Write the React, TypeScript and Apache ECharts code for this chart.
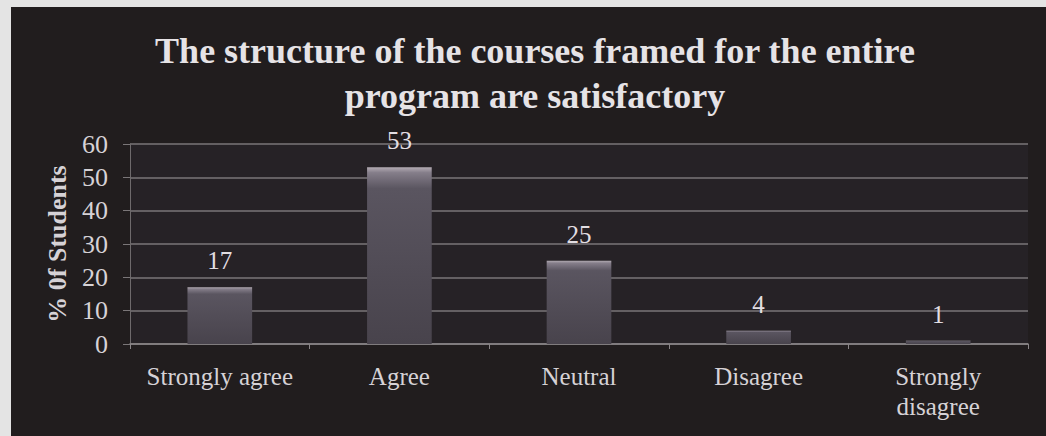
import React, { useEffect, useRef } from "react";
import * as echarts from "echarts";

const categories = ["Strongly agree", "Agree", "Neutral", "Disagree", "Strongly\ndisagree"];
const values = [17, 53, 25, 4, 1];
const titleLines = ["The structure of the courses framed for the entire", "program are satisfactory"];
const yAxisName = "% 0f Students";

const FONT = "'Liberation Serif', 'Times New Roman', serif";

export default function App() {
  const ref = useRef<HTMLDivElement>(null);
  useEffect(() => {
    document.body.style.margin = "0";
    const chart = echarts.init(ref.current!, undefined, { renderer: "svg" });
    chart.setOption({
      animation: false,
      backgroundColor: "#211d1e",
      title: {
        text: titleLines.join("\n"),
        left: 519,
        textAlign: "center",
        top: 16,
        textStyle: {
          fontFamily: FONT,
          fontSize: 36,
          lineHeight: 45,
          fontWeight: "bold",
          color: "#e6e3e6",
        },
      },
      grid: {
        left: 119,
        right: 18,
        top: 137,
        bottom: 92,
        show: true,
        backgroundColor: "#262226",
        borderWidth: 0,
      },
      xAxis: {
        type: "category",
        data: categories,
        axisLine: { lineStyle: { color: "#8a8688", width: 1.5 } },
        axisTick: { show: true, length: 5, lineStyle: { color: "#8a8688" } },
        axisLabel: {
          fontFamily: FONT,
          fontSize: 25,
          lineHeight: 30,
          color: "#d6d2d6",
          margin: 17,
          interval: 0,
        },
      },
      yAxis: {
        type: "value",
        min: 0,
        max: 60,
        interval: 10,
        name: yAxisName,
        nameLocation: "middle",
        nameRotate: 90,
        nameGap: 60,
        nameTextStyle: {
          fontFamily: FONT,
          fontSize: 26,
          fontWeight: "bold",
          color: "#d6d2d6",
        },
        axisLine: { show: true, lineStyle: { color: "#6e6a6c" } },
        axisTick: { show: true, length: 7, lineStyle: { color: "#7a7678" } },
        axisLabel: {
          fontFamily: FONT,
          fontSize: 26,
          color: "#d6d2d6",
          margin: 22,
        },
        splitLine: { lineStyle: { color: "#7a7678", width: 1.5 } },
      },
      series: [
        {
          type: "bar",
          data: values,
          barWidth: "36%",
          itemStyle: {
            color: new echarts.graphic.LinearGradient(0, 0, 0, 1, [
              { offset: 0, color: "#b4acb4" },
              { offset: 0.03, color: "#857e8a" },
              { offset: 0.12, color: "#5a5560" },
              { offset: 1, color: "#48434c" },
            ]),
          },
          label: {
            show: true,
            position: "top",
            distance: 14,
            fontFamily: FONT,
            fontSize: 25,
            color: "#e2dee2",
          },
        },
      ],
    });
    return () => chart.dispose();
  }, []);
  return (
    <div style={{ position: "relative", width: 1046, height: 436, background: "#e4e4e4", overflow: "hidden" }}>
      <div ref={ref} style={{ position: "absolute", left: 11, top: 7, width: 1035, height: 429 }} />
    </div>
  );
}
